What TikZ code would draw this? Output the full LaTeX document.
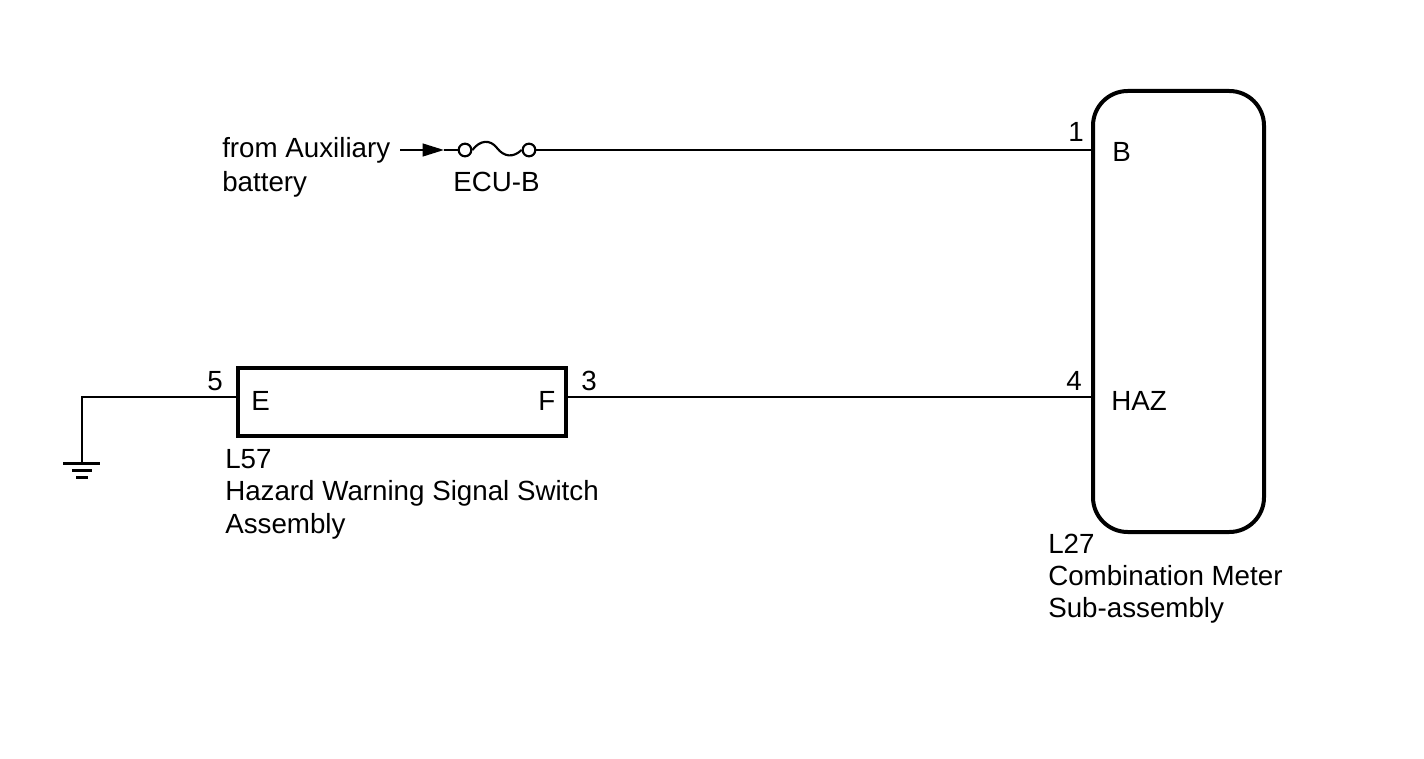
\documentclass[tikz,border=0pt]{standalone}
\usepackage{fontspec}
\setmainfont{Liberation Sans}
\usetikzlibrary{arrows.meta}
\begin{document}
\begin{tikzpicture}[x=0.75pt,y=-0.75pt,
  wire/.style={line width=1.6pt},
  thickbox/.style={draw,line width=3pt,inner sep=0pt},
  lbl/.style={anchor=base west,inner sep=0pt,font=\fontsize{20.8pt}{24.75pt}\selectfont},
  pin/.style={circle,draw,line width=1.6pt,inner sep=0pt,minimum size=9.5pt}]
\useasboundingbox (0,0) rectangle (1424,759);
% components
\node[thickbox,rounded corners=26pt,minimum width=128.25pt,minimum height=330.75pt] (meter) at (1178.5,311.5) {};
\node[thickbox,minimum width=246pt,minimum height=51pt] (sw) at (402,402) {};
\node[pin] (fl) at (465,150) {};
\node[pin] (fr) at (529,150) {};
% coordinates
\coordinate (src) at (400,150);
\coordinate (tip) at (444,150);
\coordinate (mB) at (meter.west |- 0,150);
\coordinate (mH) at (meter.west |- 0,397);
\coordinate (swE) at (sw.west |- 0,397);
\coordinate (swF) at (sw.east |- 0,397);
\coordinate (gnd) at (82,397);
\coordinate (gb) at (82,463);
% wires
\draw[wire,-{Triangle[length=16pt,width=9.5pt]}] (src) -- (tip);
\draw[wire] (tip) -- (fl.west);
\draw[wire] (fl.east) .. controls (480,140) and (490,139) .. (497,148) .. controls (504,157) and (513,158) .. (fr.west);
\draw[wire] (fr.east) -- (mB);
\draw[wire] (swF) -- (mH);
\draw[wire] (swE) -- (gnd) -- (gb);
\draw[line width=2.25pt] (63,463) -- (100,463);
\draw[line width=2.25pt] (72,470) -- (92,470);
\draw[line width=2.25pt] (76,477) -- (88,477);
% labels
\node[lbl] (t1) at (222,158) {from Auxiliary};
\node[lbl] (t2) at (222,192) {battery};
\node[lbl] (t3) at (453,192) {ECU-B};
\node[lbl] (p1) at (1068,142) {1};
\node[lbl] (pB) at (1112,162) {B};
\node[lbl] (p4) at (1066,390) {4};
\node[lbl] (pH) at (1111,410) {HAZ};
\node[lbl] (p5) at (207,390) {5};
\node[lbl] (pE) at (251,410) {E};
\node[lbl] (pF) at (538,410) {F};
\node[lbl] (p3) at (581,390) {3};
\node[lbl] (l1) at (225,468) {L57};
\node[lbl] (l2) at (225,500) {Hazard Warning Signal Switch};
\node[lbl] (l3) at (225,533) {Assembly};
\node[lbl] (m1) at (1048,553) {L27};
\node[lbl] (m2) at (1048,585) {Combination Meter};
\node[lbl] (m3) at (1048,617) {Sub-assembly};
\end{tikzpicture}
\end{document}
